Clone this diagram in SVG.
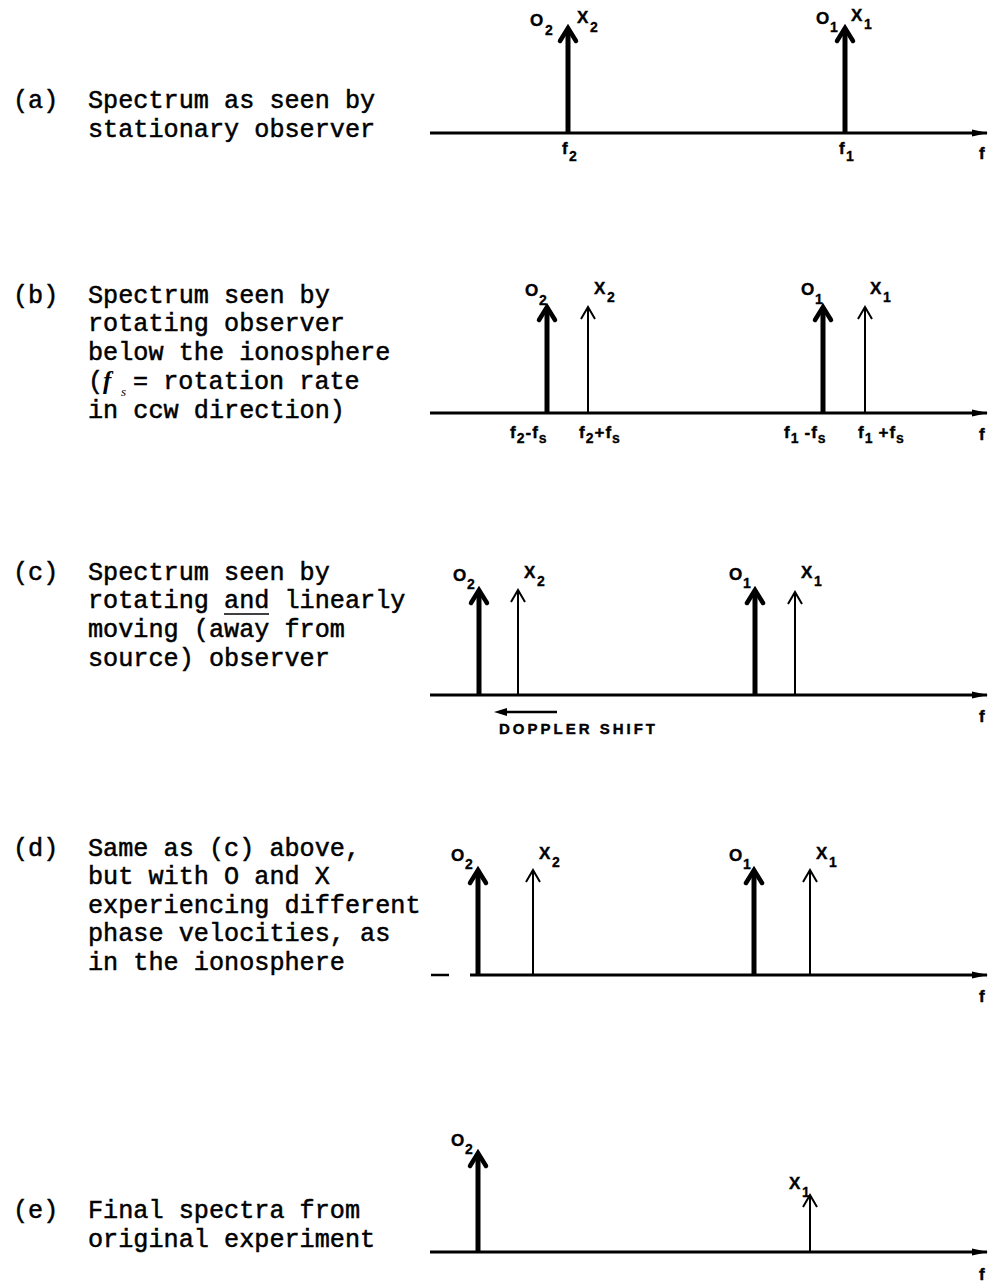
<svg xmlns="http://www.w3.org/2000/svg" width="995" height="1287" viewBox="0 0 995 1287">
<style>
.txt{font-family:"Liberation Mono","Courier New",monospace;font-size:25.2px;fill:#000;stroke:#000;stroke-width:0.5px}
.lbl{font-family:"Liberation Sans",Arial,sans-serif;font-weight:bold;font-size:17px;fill:#000;stroke:#000;stroke-width:0.4px}
.sub{font-family:"Liberation Sans",Arial,sans-serif;font-weight:bold;font-size:14px;fill:#000;stroke:#000;stroke-width:0.3px}
.axis{stroke:#000;stroke-width:3;fill:none}
.thick{stroke:#000;stroke-width:5;fill:none}
.thin{stroke:#000;stroke-width:2;fill:none}
.headK{stroke:#000;stroke-width:4.5;fill:none;stroke-linecap:round;stroke-linejoin:miter}
.headN{stroke:#000;stroke-width:2;fill:none;stroke-linejoin:miter}
</style>
<defs>
<marker id="ax" viewBox="0 0 16 10" refX="15" refY="5" markerWidth="16" markerHeight="10" markerUnits="userSpaceOnUse" orient="auto">
<path d="M0 1.5 L16 5 L0 8.5 Z" fill="#000"/>
</marker>
</defs>
<rect width="995" height="1287" fill="#fff"/>

<!-- Panel (a) -->
<g id="panel-a-text">
<text class="txt" x="13" y="108">(a)</text>
<text class="txt" x="88" y="108">Spectrum as seen by</text>
<text class="txt" x="88" y="137">stationary observer</text>
</g>
<g id="panel-a-plot">
<g id="connectors-a">
<path class="axis" d="M430 133 H987" marker-end="url(#ax)"/>
</g>
<g id="a-f2">
<path class="thick" d="M568 133 V31"/><path class="headK" d="M560 41 L568 28 L576 41"/>
<text class="lbl" x="530" y="26">O</text><text class="sub" x="545" y="35">2</text>
<text class="lbl" x="577" y="23">X</text><text class="sub" x="590" y="32">2</text>
<text class="lbl" x="562" y="154">f</text><text class="sub" x="569" y="161">2</text>
</g>
<g id="a-f1">
<path class="thick" d="M845 133 V31"/><path class="headK" d="M837 41 L845 28 L853 41"/>
<text class="lbl" x="816" y="24">O</text><text class="sub" x="830" y="32">1</text>
<text class="lbl" x="851" y="21">X</text><text class="sub" x="864" y="29">1</text>
<text class="lbl" x="839" y="154">f</text><text class="sub" x="846" y="161">1</text>
</g>
<text class="lbl" x="979" y="159">f</text>
</g>

<!-- Panel (b) -->
<g id="panel-b-text">
<text class="txt" x="13" y="303">(b)</text>
<text class="txt" x="88" y="303">Spectrum seen by</text>
<text class="txt" x="88" y="331">rotating observer</text>
<text class="txt" x="88" y="360">below the ionosphere</text>
<text class="txt" x="88" y="389">(</text>
<text x="103" y="389" style="font-family:'Liberation Serif',serif;font-style:italic;font-weight:bold;font-size:25px">f</text>
<text x="121" y="396" style="font-family:'Liberation Serif',serif;font-style:italic;font-size:13px">s</text>
<text class="txt" x="133" y="389">= rotation rate</text>
<text class="txt" x="88" y="418">in ccw direction)</text>
</g>
<g id="panel-b-plot">
<g id="connectors-b">
<path class="axis" d="M430 413 H987" marker-end="url(#ax)"/>
</g>
<g id="b-o2">
<path class="thick" d="M547 413 V310"/><path class="headK" d="M539 320 L547 307 L555 320"/>
<text class="lbl" x="525" y="296">O</text><text class="sub" x="539" y="305">2</text>
<text class="lbl" x="510" y="438" letter-spacing="1">f<tspan class="sub" dy="5">2</tspan><tspan dy="-5">-</tspan>f<tspan class="sub" dy="5">s</tspan></text>
</g>
<g id="b-x2">
<path class="thin" d="M588 413 V308"/><path class="headN" d="M581 319 L588 307 L595 319"/>
<text class="lbl" x="594" y="294">X</text><text class="sub" x="607" y="302">2</text>
<text class="lbl" x="579" y="438" letter-spacing="1">f<tspan class="sub" dy="5">2</tspan><tspan dy="-5">+</tspan>f<tspan class="sub" dy="5">s</tspan></text>
</g>
<g id="b-o1">
<path class="thick" d="M823 413 V310"/><path class="headK" d="M815 320 L823 307 L831 320"/>
<text class="lbl" x="801" y="295">O</text><text class="sub" x="815" y="304">1</text>
<text class="lbl" x="784" y="438" letter-spacing="1">f<tspan class="sub" dy="5">1</tspan><tspan dx="5" dy="-5">-</tspan>f<tspan class="sub" dy="5">s</tspan></text>
</g>
<g id="b-x1">
<path class="thin" d="M865 413 V308"/><path class="headN" d="M858 319 L865 307 L872 319"/>
<text class="lbl" x="870" y="294">X</text><text class="sub" x="883" y="302">1</text>
<text class="lbl" x="858" y="438" letter-spacing="1">f<tspan class="sub" dy="5">1</tspan><tspan dx="5" dy="-5">+</tspan>f<tspan class="sub" dy="5">s</tspan></text>
</g>
<text class="lbl" x="979" y="440">f</text>
</g>

<!-- Panel (c) -->
<g id="panel-c-text">
<text class="txt" x="13" y="580">(c)</text>
<text class="txt" x="88" y="580">Spectrum seen by</text>
<text class="txt" x="88" y="608">rotating and linearly</text>
<path d="M224 614 H269" stroke="#000" stroke-width="1.6"/>
<text class="txt" x="88" y="637">moving (away from</text>
<text class="txt" x="88" y="666">source) observer</text>
</g>
<g id="panel-c-plot">
<g id="connectors-c">
<path class="axis" d="M430 695 H987" marker-end="url(#ax)"/>
<path d="M557 712 H500" stroke="#000" stroke-width="2.5" fill="none"/>
<path d="M494 712 L507 708 L507 716 Z" fill="#000"/>
</g>
<g id="c-o2">
<path class="thick" d="M479 695 V593"/><path class="headK" d="M471 603 L479 590 L487 603"/>
<text class="lbl" x="453" y="581">O</text><text class="sub" x="467" y="589">2</text>
</g>
<g id="c-x2">
<path class="thin" d="M518 695 V591"/><path class="headN" d="M511 602 L518 590 L525 602"/>
<text class="lbl" x="524" y="578">X</text><text class="sub" x="537" y="586">2</text>
</g>
<g id="c-o1">
<path class="thick" d="M755 695 V593"/><path class="headK" d="M747 603 L755 590 L763 603"/>
<text class="lbl" x="729" y="580">O</text><text class="sub" x="743" y="588">1</text>
</g>
<g id="c-x1">
<path class="thin" d="M795 695 V593"/><path class="headN" d="M788 604 L795 592 L802 604"/>
<text class="lbl" x="801" y="578">X</text><text class="sub" x="814" y="586">1</text>
</g>
<text class="lbl" x="499" y="734" style="font-size:15px" textLength="156" lengthAdjust="spacing">DOPPLER SHIFT</text>
<text class="lbl" x="979" y="722">f</text>
</g>

<!-- Panel (d) -->
<g id="panel-d-text">
<text class="txt" x="13" y="856">(d)</text>
<text class="txt" x="88" y="856">Same as (c) above,</text>
<text class="txt" x="88" y="884">but with O and X</text>
<text class="txt" x="88" y="913">experiencing different</text>
<text class="txt" x="88" y="941">phase velocities, as</text>
<text class="txt" x="88" y="970">in the ionosphere</text>
</g>
<g id="panel-d-plot">
<g id="connectors-d">
<path d="M431 975 H449" stroke="#000" stroke-width="2.5"/>
<path class="axis" d="M470 975 H987" marker-end="url(#ax)"/>
</g>
<g id="d-o2">
<path class="thick" d="M478 975 V873"/><path class="headK" d="M470 883 L478 870 L486 883"/>
<text class="lbl" x="451" y="861">O</text><text class="sub" x="465" y="869">2</text>
</g>
<g id="d-x2">
<path class="thin" d="M533 975 V871"/><path class="headN" d="M526 882 L533 870 L540 882"/>
<text class="lbl" x="539" y="859">X</text><text class="sub" x="552" y="867">2</text>
</g>
<g id="d-o1">
<path class="thick" d="M754 975 V873"/><path class="headK" d="M746 883 L754 870 L762 883"/>
<text class="lbl" x="729" y="861">O</text><text class="sub" x="743" y="869">1</text>
</g>
<g id="d-x1">
<path class="thin" d="M810 975 V871"/><path class="headN" d="M803 882 L810 870 L817 882"/>
<text class="lbl" x="816" y="859">X</text><text class="sub" x="829" y="867">1</text>
</g>
<text class="lbl" x="979" y="1002">f</text>
</g>

<!-- Panel (e) -->
<g id="panel-e-text">
<text class="txt" x="13" y="1218">(e)</text>
<text class="txt" x="88" y="1218">Final spectra from</text>
<text class="txt" x="88" y="1247">original experiment</text>
</g>
<g id="panel-e-plot">
<g id="connectors-e">
<path class="axis" d="M430 1252 H987" marker-end="url(#ax)"/>
</g>
<g id="e-o2">
<path class="thick" d="M478 1252 V1156"/><path class="headK" d="M470 1166 L478 1153 L486 1166"/>
<text class="lbl" x="451" y="1146">O</text><text class="sub" x="465" y="1154">2</text>
</g>
<g id="e-x1">
<path class="thin" d="M810 1252 V1196"/><path class="headN" d="M803 1207 L810 1195 L817 1207"/>
<text class="lbl" x="789" y="1189">X</text><text class="sub" x="802" y="1197">1</text>
</g>
<text class="lbl" x="979" y="1280">f</text>
</g>
</svg>
